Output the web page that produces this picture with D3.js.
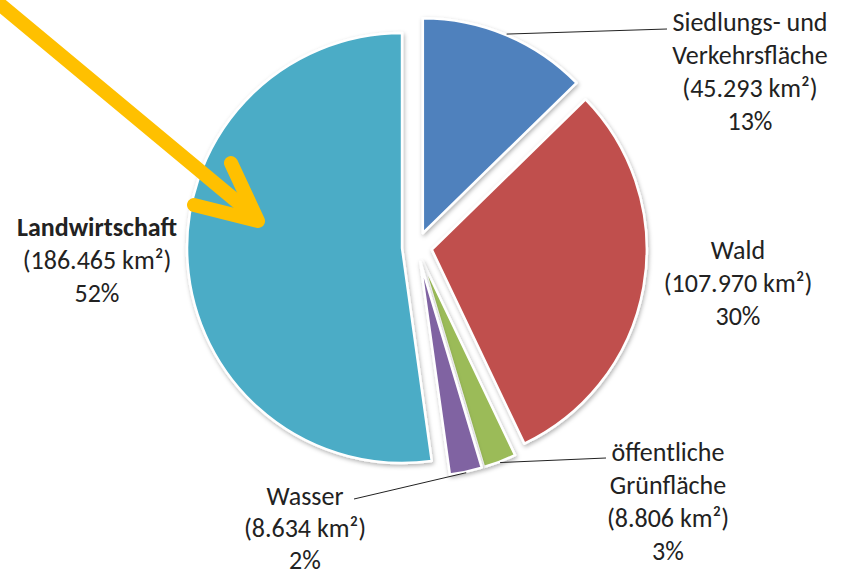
<!DOCTYPE html>
<html>
<head>
<meta charset="utf-8">
<script src="https://cdn.jsdelivr.net/npm/d3@7"></script>
<style>
  body { margin: 0; background: #fff; }
  text { font-family: Carlito, Lato, "Open Sans", sans-serif; fill: #222; }
</style>
</head>
<body>
<div id="chart"></div>
<script>
// data
const categories = ['Siedlungs- und\nVerkehrsfläche', 'Wald', 'öffentliche\nGrünfläche', 'Wasser', 'Landwirtschaft'];
const areas = [45293, 107970, 8806, 8634, 186465];
const percentLabels = ['13%', '30%', '3%', '2%', '52%'];
const colors = ['#4F81BD', '#C0504D', '#9BBB59', '#8064A2', '#4BACC6'];

// label layout: centre x, first baseline, line step, leader line end (null = none)
const labelLayout = [
  { x: 750, y: 31, step: 33, lead: [667, 29], bold: false },
  { x: 738, y: 259, step: 33, lead: null, bold: false },
  { x: 668, y: 461, step: 33, lead: [606, 458], bold: false },
  { x: 305, y: 505, step: 32, lead: [354, 499], bold: false },
  { x: 97, y: 236, step: 33, lead: null, bold: true }
];

const width = 845;
const height = 577;
const cx = 417, cy = 247;
const radius = 215;
const explode = 15;

const de = d3.formatLocale({ decimal: ',', thousands: '.', grouping: [3], currency: ['', '€'] });
const fmt = de.format(',d');

const svg = d3.select('#chart')
    .append('svg')
    .attr('width', width)
    .attr('height', height);

const defs = svg.append('defs');
const shadow = defs.append('filter')
    .attr('id', 'shadow')
    .attr('x', '-20%').attr('y', '-20%')
    .attr('width', '140%').attr('height', '140%');
shadow.append('feDropShadow')
    .attr('dx', 1).attr('dy', 2)
    .attr('stdDeviation', 2)
    .attr('flood-color', '#000')
    .attr('flood-opacity', 0.3);

const pie = d3.pie().sort(null).value(d => d);
const arcs = pie(areas);
const arc = d3.arc().innerRadius(0).outerRadius(radius);

const offset = d => {
  const mid = (d.startAngle + d.endAngle) / 2;
  return [Math.sin(mid) * explode, -Math.cos(mid) * explode];
};

const chart = svg.append('g')
    .attr('transform', `translate(${cx},${cy})`);

chart.selectAll('.slice')
    .data(arcs)
    .enter()
    .append('path')
    .classed('slice', true)
    .attr('transform', d => `translate(${offset(d)})`)
    .attr('d', arc)
    .attr('fill', (d, i) => colors[i])
    .attr('stroke', '#fff')
    .attr('stroke-width', 2.5)
    .attr('stroke-linejoin', 'round')
    .attr('filter', 'url(#shadow)');

// leader lines
chart.selectAll('.leader')
    .data(arcs.filter((d, i) => labelLayout[i].lead))
    .enter()
    .append('line')
    .classed('leader', true)
    .each(function(d) {
      const mid = (d.startAngle + d.endAngle) / 2;
      const o = offset(d);
      const lay = labelLayout[d.index];
      d3.select(this)
        .attr('x1', o[0] + Math.sin(mid) * (radius + 1))
        .attr('y1', o[1] - Math.cos(mid) * (radius + 1))
        .attr('x2', lay.lead[0] - cx)
        .attr('y2', lay.lead[1] - cy);
    })
    .attr('stroke', '#222')
    .attr('stroke-width', 1);

// labels
const labels = svg.selectAll('.label')
    .data(arcs)
    .enter()
    .append('text')
    .classed('label', true)
    .attr('text-anchor', 'middle')
    .style('font-size', '26px');

labels.each(function(d, i) {
  const lay = labelLayout[i];
  const lines = categories[i].split('\n')
      .map(t => ({ t, bold: lay.bold }))
      .concat([{ t: '(' + fmt(areas[i]) + ' km²)' }, { t: percentLabels[i] }]);
  d3.select(this).selectAll('tspan')
    .data(lines)
    .enter()
    .append('tspan')
    .attr('x', lay.x)
    .attr('y', (l, j) => lay.y + j * lay.step)
    .style('font-weight', l => l.bold ? 'bold' : null)
    .text(l => l.t);
});

// yellow arrow pointing at Landwirtschaft
const arrow = svg.append('g')
    .attr('fill', 'none')
    .attr('stroke', '#FFC000')
    .attr('stroke-width', 14)
    .attr('stroke-linecap', 'round')
    .attr('stroke-linejoin', 'round');
arrow.append('path').attr('d', 'M-10,-4 L252,214');
arrow.append('path').attr('d', 'M231,163 L258,221 L194,205');
</script>
</body>
</html>
